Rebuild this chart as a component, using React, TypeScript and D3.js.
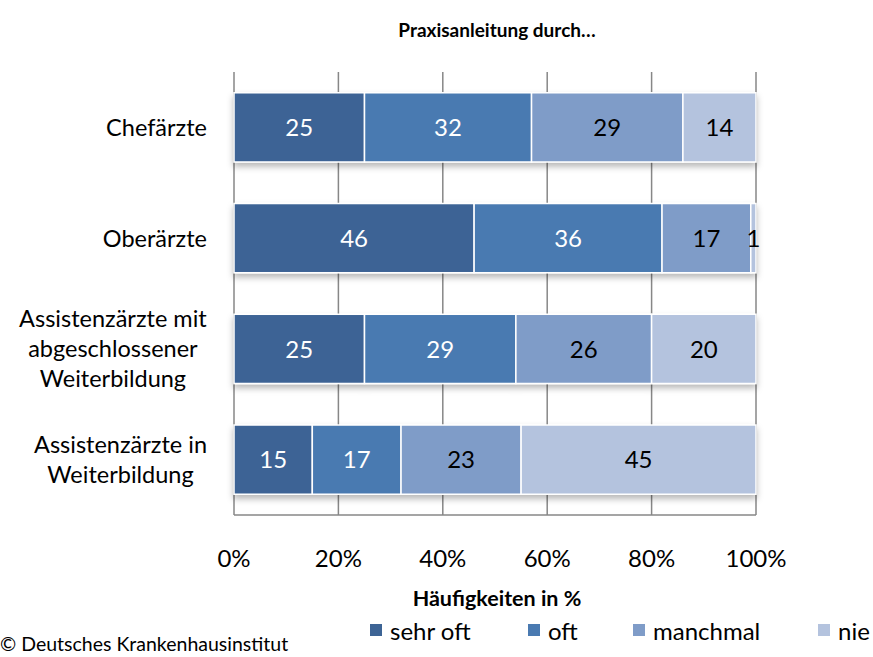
import React, { useEffect, useRef } from "react";
import * as d3 from "d3";

const categories = [
  "Chefärzte",
  "Oberärzte",
  "Assistenzärzte mit\nabgeschlossener\nWeiterbildung",
  "Assistenzärzte in\nWeiterbildung",
];
const seriesNames = ["sehr oft", "oft", "manchmal", "nie"];
const sehrOft = [25, 46, 25, 15];
const oft = [32, 36, 29, 17];
const manchmal = [29, 17, 26, 23];
const nie = [14, 1, 20, 45];
const colors = ["#3D6495", "#4A7AB1", "#7F9CC8", "#B4C3DE"];
const labelColors = ["#ffffff", "#ffffff", "#000000", "#000000"];
const ticks = [0, 20, 40, 60, 80, 100];

const W = 873;
const H = 657;
const FONT = "Lato, 'Open Sans', sans-serif";

export default function App() {
  const ref = useRef<SVGSVGElement>(null);

  useEffect(() => {
    const svg = d3.select(ref.current!);
    svg.selectAll("*").remove();

    const left = 234, right = 756, top = 72, bottom = 515;
    const x = d3.scaleLinear().domain([0, 100]).range([left, right]);
    const y = d3.scaleBand<string>().domain(categories).range([top, bottom]).paddingInner(0.375).paddingOuter(0.1875);

    const defs = svg.append("defs");
    const f = defs.append("filter").attr("id", "sh").attr("x", "-5%").attr("y", "-20%").attr("width", "110%").attr("height", "150%");
    f.append("feDropShadow").attr("dx", 0).attr("dy", 4).attr("stdDeviation", 3).attr("flood-color", "#000").attr("flood-opacity", 0.28);

    svg.append("rect").attr("width", W).attr("height", H).attr("fill", "#fff");

    // title
    svg.append("text").attr("x", 497).attr("y", 37).attr("text-anchor", "middle")
      .attr("font-family", FONT).attr("font-weight", "bold").attr("font-size", 19).text("Praxisanleitung durch…");

    // gridlines
    const g = svg.append("g");
    g.selectAll("line.grid").data(ticks).enter().append("line")
      .attr("x1", (d) => x(d)).attr("x2", (d) => x(d)).attr("y1", top).attr("y2", bottom)
      .attr("stroke", "#878787").attr("stroke-width", 1.5);
    g.append("line").attr("x1", left).attr("x2", right).attr("y1", bottom).attr("y2", bottom)
      .attr("stroke", "#878787").attr("stroke-width", 1.5);

    const series = [sehrOft, oft, manchmal, nie];
    const rows = categories.map((c, i) => {
      let acc = 0;
      return series.map((s, k) => {
        const v = s[i];
        const seg = { cat: c, k, v, x0: acc, x1: acc + v };
        acc += v;
        return seg;
      });
    });

    const bars = svg.append("g").attr("filter", "url(#sh)");
    rows.forEach((row) => {
      bars.selectAll(null).data(row).enter().append("rect")
        .attr("x", (d) => x(d.x0)).attr("width", (d) => x(d.x1) - x(d.x0))
        .attr("y", (d) => y(d.cat)!).attr("height", y.bandwidth())
        .attr("fill", (d) => colors[d.k]).attr("stroke", "#fff").attr("stroke-width", 1.5);
    });
    const lab = svg.append("g");
    rows.forEach((row) => {
      lab.selectAll(null).data(row).enter().append("text")
        .attr("x", (d) => (x(d.x0) + x(d.x1)) / 2).attr("y", (d) => y(d.cat)! + y.bandwidth() / 2)
        .attr("dy", "0.36em").attr("text-anchor", "middle")
        .attr("font-family", FONT).attr("font-size", 24).attr("fill", (d) => labelColors[d.k])
        .text((d) => String(d.v));
    });

    // category labels
    const catG = svg.append("g");
    categories.forEach((c) => {
      const lines = c.split("\n");
      const lh = 30;
      const cy = y(c)! + y.bandwidth() / 2;
      const t = catG.append("text").attr("font-family", FONT).attr("font-size", 23.5).attr("fill", "#000").attr("text-anchor", "middle");
      lines.forEach((ln, i) => {
        t.append("tspan").attr("x", 0).attr("y", cy + (i - (lines.length - 1) / 2) * lh).attr("dy", "0.36em").text(ln);
      });
      const bb = (t.node() as SVGTextElement).getBBox();
      t.attr("transform", `translate(${207 - bb.width / 2},0)`);
    });

    // x tick labels
    svg.append("g").selectAll("text").data(ticks).enter().append("text")
      .attr("x", (d) => x(d)).attr("y", 567).attr("text-anchor", "middle")
      .attr("font-family", FONT).attr("font-size", 24).text((d) => d + "%");

    svg.append("text").attr("x", 497).attr("y", 606).attr("text-anchor", "middle")
      .attr("font-family", FONT).attr("font-weight", "bold").attr("font-size", 21.5).text("Häufigkeiten in %");

    // legend
    const legX = [370, 528, 633, 818];
    const lg = svg.append("g");
    seriesNames.forEach((n, i) => {
      lg.append("rect").attr("x", legX[i]).attr("y", 624).attr("width", 12).attr("height", 12).attr("fill", colors[i]);
      lg.append("text").attr("x", legX[i] + 20).attr("y", 640).attr("font-family", FONT).attr("font-size", 24).text(n);
    });

    svg.append("text").attr("x", 0).attr("y", 651).attr("font-family", FONT).attr("font-size", 19.5).text("© Deutsches Krankenhausinstitut");
  }, []);

  return (
    <div style={{ position: "absolute", left: 0, top: 0 }}>
      <svg ref={ref} width={W} height={H} style={{ display: "block" }} />
    </div>
  );
}
